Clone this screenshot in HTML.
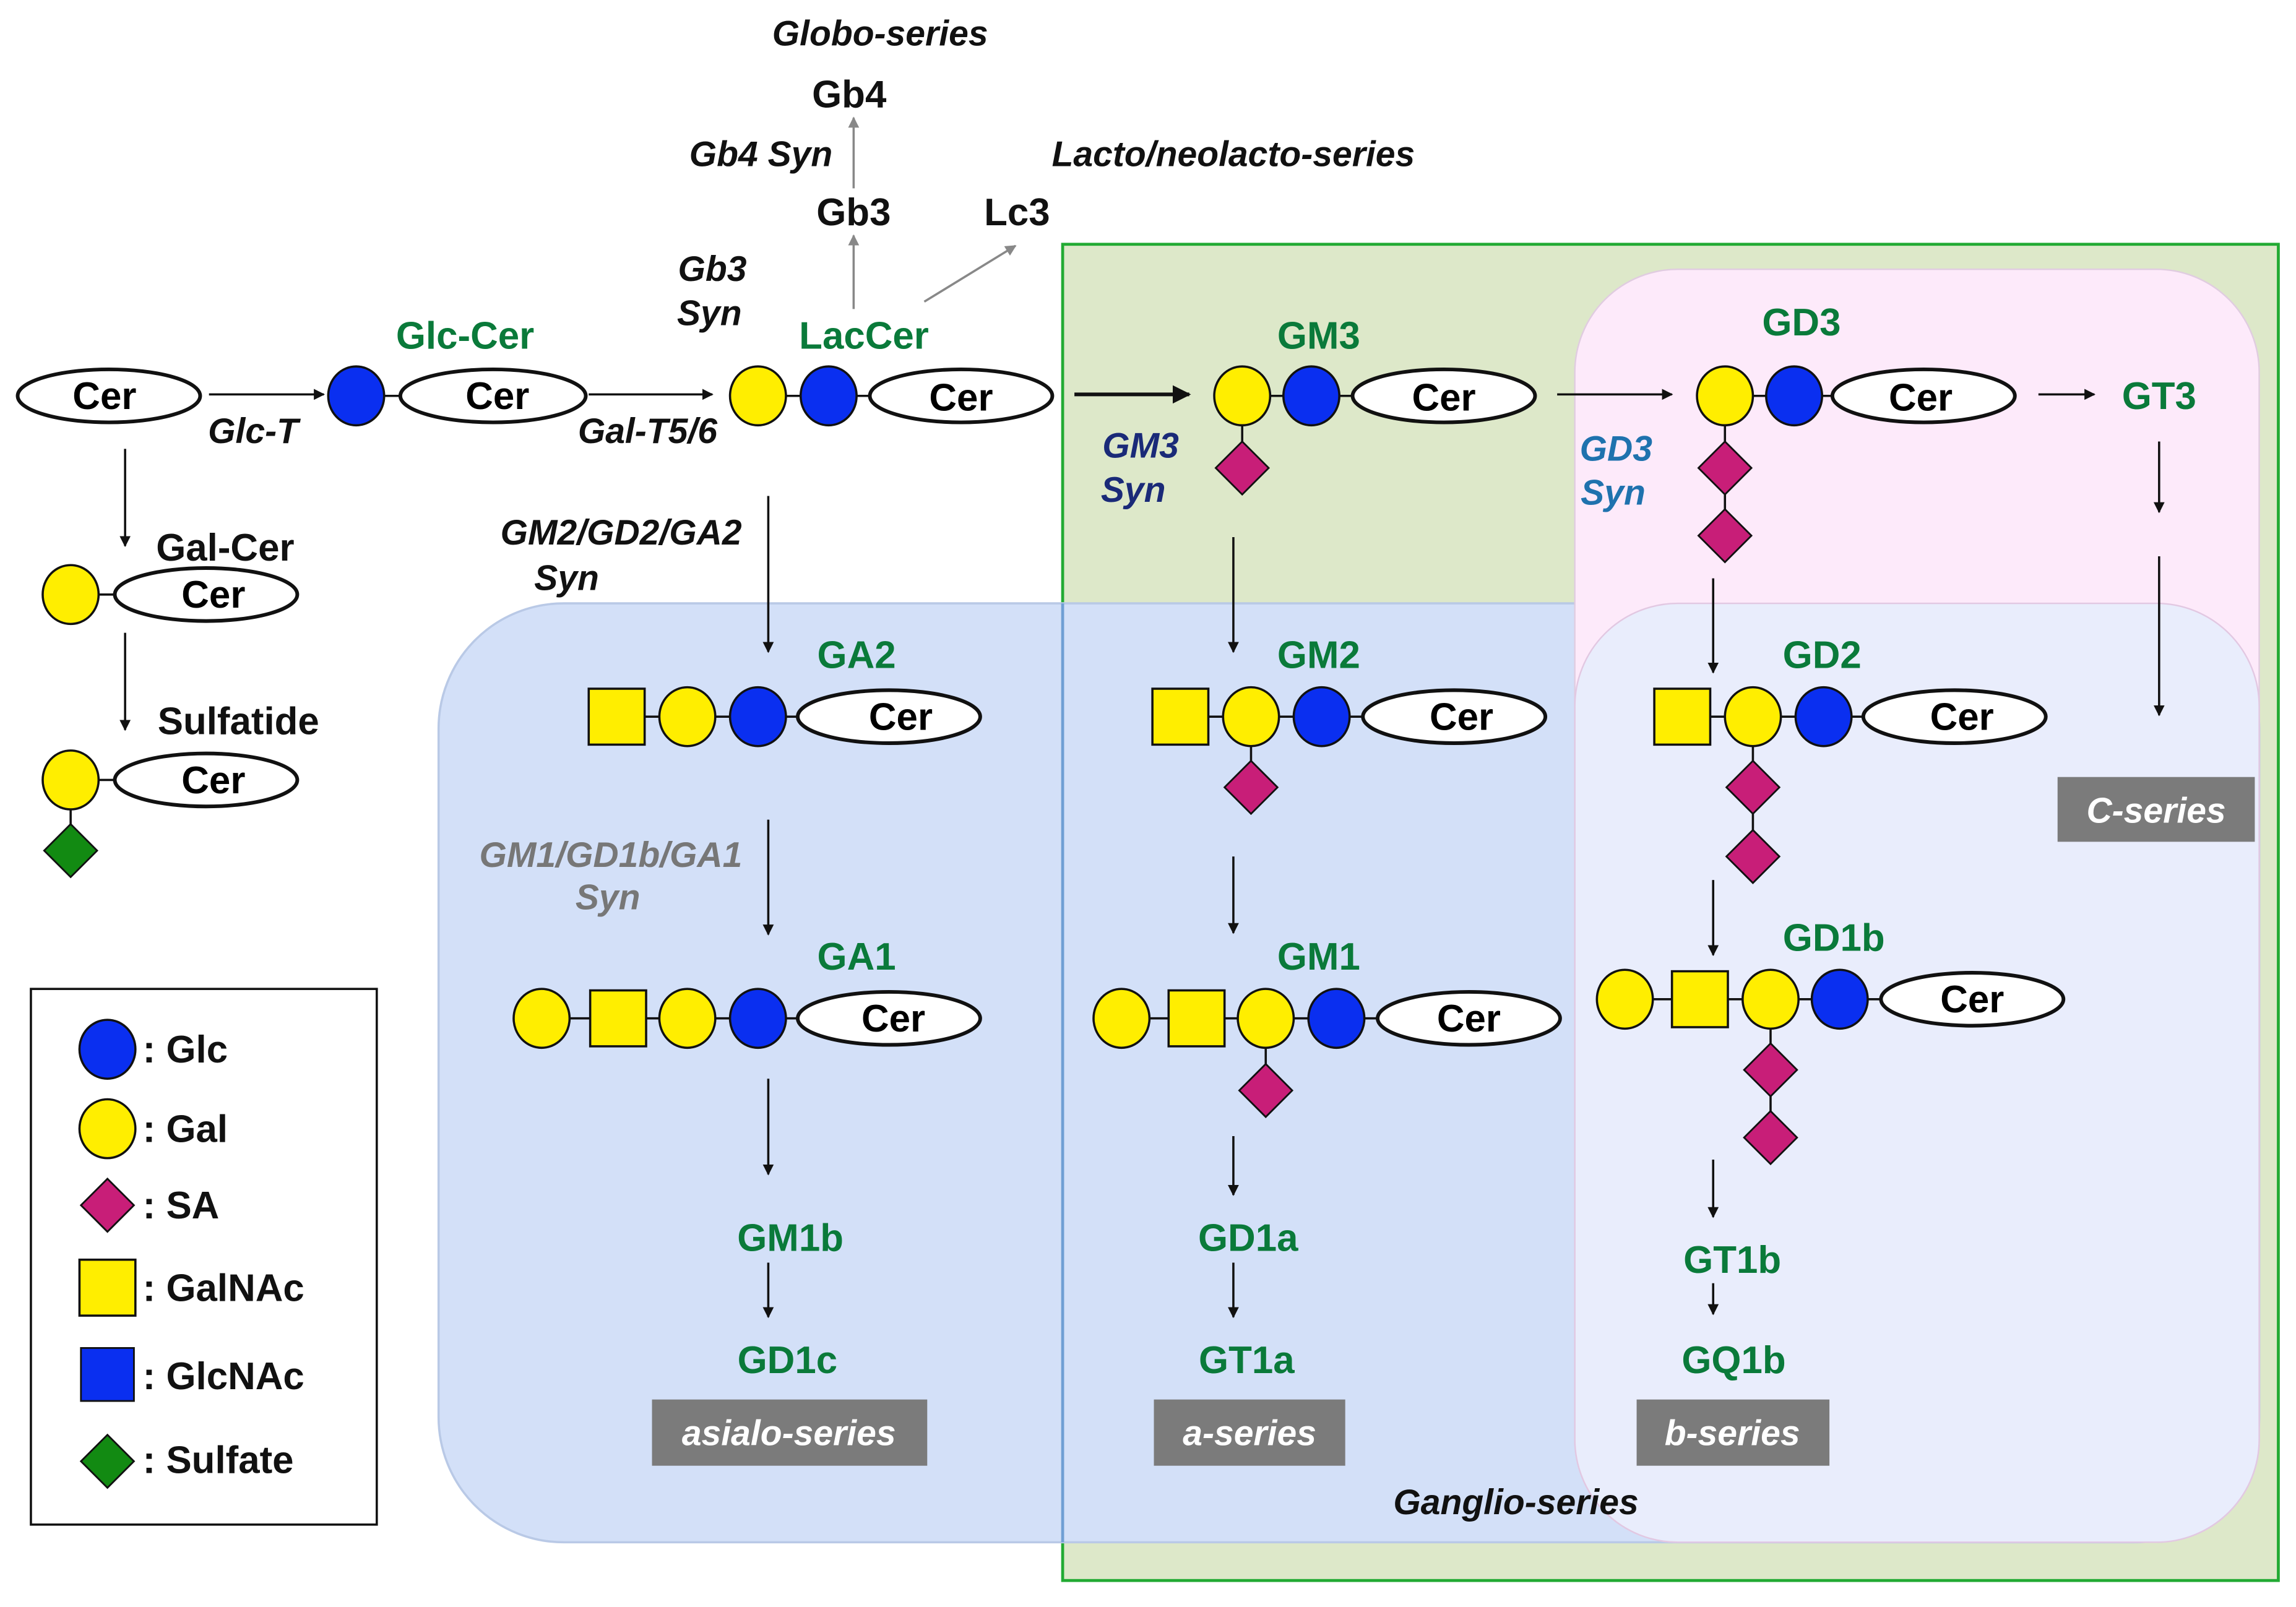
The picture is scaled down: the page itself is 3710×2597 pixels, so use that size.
<!DOCTYPE html>
<html><head><meta charset="utf-8"><style>
html,body{margin:0;padding:0;background:#fff}
svg{display:block}
text{font-family:"Liberation Sans",Arial,sans-serif;font-weight:bold}
.g{fill:#0a7a3a;font-size:26px}
.k{fill:#111;font-size:26px}
.i{font-style:italic;fill:#111;font-size:24px}
.c{fill:#000;font-size:26px;font-weight:bold}
.box{fill:#7b7b7b}
.bt{fill:#fff;font-style:italic;font-size:24px}
</style></head><body>
<svg width="3710" height="2597" viewBox="0 0 1560 1092" preserveAspectRatio="none" xmlns="http://www.w3.org/2000/svg">
<defs>
<marker id="ah" viewBox="0 0 10 10" refX="9" refY="5" markerWidth="5" markerHeight="5" orient="auto-start-reverse"><path d="M0,0 L10,5 L0,10 z" fill="#111"/></marker>
<marker id="ag" viewBox="0 0 10 10" refX="9" refY="5" markerWidth="5" markerHeight="5" orient="auto-start-reverse"><path d="M0,0 L10,5 L0,10 z" fill="#888"/></marker>
<ellipse id="glc" rx="19" ry="20" fill="#0a2ff0" stroke="#111" stroke-width="1.5"/>
<ellipse id="gal" rx="19" ry="20" fill="#ffee00" stroke="#111" stroke-width="1.5"/>
<rect id="sq" x="-19" y="-19" width="38" height="38" fill="#ffee00" stroke="#111" stroke-width="1.5"/>
<path id="sa" d="M0,-18 L18,0 L0,18 L-18,0 z" fill="#c81e78" stroke="#111" stroke-width="1.2"/>
</defs>
<rect width="1560" height="1092" fill="#fff"/>
<rect x="722" y="166" width="826" height="908" fill="#dde8c9" stroke="#22aa33" stroke-width="2"/>
<rect x="298" y="410" width="1237" height="638" rx="85" fill="#d3e0f8" stroke="#b9c9e6" stroke-width="1.5"/>
<rect x="1070" y="183" width="465" height="865" rx="70" fill="#fdeafa" stroke="#e0cce0" stroke-width="1"/>
<rect x="1070" y="410" width="465" height="638" rx="70" fill="#e9edfc" stroke="#e2c8e2" stroke-width="1"/>
<line x1="722" y1="410" x2="722" y2="1048" stroke="#6f9fd4" stroke-width="2"/>

<g stroke="#111" stroke-width="1.5" fill="none">
<line x1="142" y1="268" x2="220" y2="268" marker-end="url(#ah)"/>
<line x1="400" y1="268" x2="484" y2="268" marker-end="url(#ah)"/>
<line x1="730" y1="268" x2="808" y2="268" stroke-width="2.5" marker-end="url(#ah)"/>
<line x1="1058" y1="268" x2="1136" y2="268" marker-end="url(#ah)"/>
<line x1="1385" y1="268" x2="1423" y2="268" marker-end="url(#ah)"/>
<line x1="1467" y1="300" x2="1467" y2="348" marker-end="url(#ah)"/>
<line x1="1467" y1="378" x2="1467" y2="486" marker-end="url(#ah)"/>
<line x1="85" y1="305" x2="85" y2="371" marker-end="url(#ah)"/>
<line x1="85" y1="430" x2="85" y2="496" marker-end="url(#ah)"/>
<line x1="522" y1="337" x2="522" y2="443" marker-end="url(#ah)"/>
<line x1="522" y1="557" x2="522" y2="635" marker-end="url(#ah)"/>
<line x1="522" y1="733" x2="522" y2="798" marker-end="url(#ah)"/>
<line x1="522" y1="858" x2="522" y2="895" marker-end="url(#ah)"/>
<line x1="838" y1="365" x2="838" y2="443" marker-end="url(#ah)"/>
<line x1="838" y1="582" x2="838" y2="634" marker-end="url(#ah)"/>
<line x1="838" y1="772" x2="838" y2="812" marker-end="url(#ah)"/>
<line x1="838" y1="858" x2="838" y2="895" marker-end="url(#ah)"/>
<line x1="1164" y1="393" x2="1164" y2="457" marker-end="url(#ah)"/>
<line x1="1164" y1="598" x2="1164" y2="649" marker-end="url(#ah)"/>
<line x1="1164" y1="788" x2="1164" y2="827" marker-end="url(#ah)"/>
<line x1="1164" y1="872" x2="1164" y2="893" marker-end="url(#ah)"/>
</g>
<g stroke="#888" stroke-width="1.5">
<line x1="580" y1="210" x2="580" y2="160" marker-end="url(#ag)"/>
<line x1="580" y1="128" x2="580" y2="80" marker-end="url(#ag)"/>
<line x1="628" y1="205" x2="690" y2="167" marker-end="url(#ag)"/>
</g>

<g stroke="#111" stroke-width="1.5">
<line x1="242" y1="269" x2="300" y2="269"/>
<line x1="515" y1="269" x2="600" y2="269"/>
<line x1="844" y1="269" x2="930" y2="269"/><line x1="844" y1="269" x2="844" y2="318"/>
<line x1="1172" y1="269" x2="1250" y2="269"/><line x1="1172" y1="269" x2="1172" y2="364"/>
<line x1="48" y1="404" x2="90" y2="404"/>
<line x1="48" y1="530" x2="90" y2="530"/><line x1="48" y1="530" x2="48" y2="578"/>
<line x1="419" y1="487" x2="550" y2="487"/>
<line x1="368" y1="692" x2="550" y2="692"/>
<line x1="802" y1="487" x2="930" y2="487"/><line x1="850" y1="487" x2="850" y2="535"/>
<line x1="762" y1="692" x2="940" y2="692"/><line x1="860" y1="692" x2="860" y2="741"/>
<line x1="1143" y1="487" x2="1270" y2="487"/><line x1="1191" y1="487" x2="1191" y2="582"/>
<line x1="1104" y1="679" x2="1280" y2="679"/><line x1="1203" y1="679" x2="1203" y2="773"/>
</g>

<g fill="#fff" stroke="#111" stroke-width="2.5">
<ellipse cx="74" cy="269" rx="62" ry="18"/>
<ellipse cx="335" cy="269" rx="63" ry="18"/>
<ellipse cx="653" cy="269" rx="62" ry="18"/>
<ellipse cx="981" cy="269" rx="62" ry="18"/>
<ellipse cx="1307" cy="269" rx="62" ry="18"/>
<ellipse cx="140" cy="404" rx="62" ry="18"/>
<ellipse cx="140" cy="530" rx="62" ry="18"/>
<ellipse cx="604" cy="487" rx="62" ry="18"/>
<ellipse cx="604" cy="692" rx="62" ry="18"/>
<ellipse cx="988" cy="487" rx="62" ry="18"/>
<ellipse cx="998" cy="692" rx="62" ry="18"/>
<ellipse cx="1328" cy="487" rx="62" ry="18"/>
<ellipse cx="1340" cy="679" rx="62" ry="18"/>
</g>
<g text-anchor="middle">
<text x="71" y="278" class="c">Cer</text><text x="338" y="278" class="c">Cer</text><text x="653" y="279" class="c">Cer</text>
<text x="981" y="279" class="c">Cer</text><text x="1305" y="279" class="c">Cer</text>
<text x="145" y="413" class="c">Cer</text><text x="145" y="539" class="c">Cer</text>
<text x="612" y="496" class="c">Cer</text><text x="607" y="701" class="c">Cer</text>
<text x="993" y="496" class="c">Cer</text><text x="998" y="701" class="c">Cer</text>
<text x="1333" y="496" class="c">Cer</text><text x="1340" y="688" class="c">Cer</text>
</g>

<use href="#glc" x="242" y="269"/>
<use href="#gal" x="515" y="269"/><use href="#glc" x="563" y="269"/>
<use href="#sa" x="844" y="318"/><use href="#gal" x="844" y="269"/><use href="#glc" x="891" y="269"/>
<use href="#sa" x="1172" y="364"/><use href="#sa" x="1172" y="318"/><use href="#gal" x="1172" y="269"/><use href="#glc" x="1219" y="269"/>
<use href="#gal" x="48" y="404"/>
<path d="M48,560 L66,578 L48,596 L30,578 z" fill="#128a12" stroke="#111" stroke-width="1.2"/>
<use href="#gal" x="48" y="530"/>
<use href="#sq" x="419" y="487"/><use href="#gal" x="467" y="487"/><use href="#glc" x="515" y="487"/>
<use href="#gal" x="368" y="692"/><use href="#sq" x="420" y="692"/><use href="#gal" x="467" y="692"/><use href="#glc" x="515" y="692"/>
<use href="#sa" x="850" y="535"/><use href="#sq" x="802" y="487"/><use href="#gal" x="850" y="487"/><use href="#glc" x="898" y="487"/>
<use href="#sa" x="860" y="741"/><use href="#gal" x="762" y="692"/><use href="#sq" x="813" y="692"/><use href="#gal" x="860" y="692"/><use href="#glc" x="908" y="692"/>
<use href="#sa" x="1191" y="582"/><use href="#sa" x="1191" y="535"/><use href="#sq" x="1143" y="487"/><use href="#gal" x="1191" y="487"/><use href="#glc" x="1239" y="487"/>
<use href="#sa" x="1203" y="773"/><use href="#sa" x="1203" y="727"/><use href="#gal" x="1104" y="679"/><use href="#sq" x="1155" y="679"/><use href="#gal" x="1203" y="679"/><use href="#glc" x="1250" y="679"/>

<g text-anchor="middle">
<text class="g" x="316" y="237">Glc-Cer</text>
<text class="g" x="587" y="237">LacCer</text>
<text class="g" x="896" y="237">GM3</text>
<text class="g" x="1224" y="228">GD3</text>
<text class="g" x="1467" y="278">GT3</text>
<text class="g" x="582" y="454">GA2</text>
<text class="g" x="582" y="659">GA1</text>
<text class="g" x="537" y="850">GM1b</text>
<text class="g" x="535" y="933">GD1c</text>
<text class="g" x="896" y="454">GM2</text>
<text class="g" x="896" y="659">GM1</text>
<text class="g" x="848" y="850">GD1a</text>
<text class="g" x="847" y="933">GT1a</text>
<text class="g" x="1238" y="454">GD2</text>
<text class="g" x="1246" y="646">GD1b</text>
<text class="g" x="1177" y="865">GT1b</text>
<text class="g" x="1178" y="933">GQ1b</text>
<text class="k" x="577" y="73">Gb4</text>
<text class="k" x="580" y="153">Gb3</text>
<text class="k" x="691" y="153">Lc3</text>
<text class="k" x="153" y="381">Gal-Cer</text>
<text class="k" x="162" y="499">Sulfatide</text>
<text class="i" x="172" y="301">Glc-T</text>
<text class="i" x="440" y="301">Gal-T5/6</text>
<text class="i" x="484" y="191">Gb3</text>
<text class="i" x="482" y="221">Syn</text>
<text class="i" x="517" y="113">Gb4 Syn</text>
<text class="i" x="598" y="31">Globo-series</text>
<text class="i" x="838" y="113">Lacto/neolacto-series</text>
<text class="i" x="775" y="311" style="fill:#1a2a78">GM3</text>
<text class="i" x="770" y="341" style="fill:#1a2a78">Syn</text>
<text class="i" x="1098" y="313" style="fill:#1f72ae">GD3</text>
<text class="i" x="1096" y="343" style="fill:#1f72ae">Syn</text>
<text class="i" x="422" y="370">GM2/GD2/GA2</text>
<text class="i" x="385" y="401">Syn</text>
<text class="i" x="415" y="589" style="fill:#777">GM1/GD1b/GA1</text>
<text class="i" x="413" y="618" style="fill:#777">Syn</text>
<text class="i" x="1030" y="1029">Ganglio-series</text>
</g>

<rect class="box" x="1398" y="528" width="134" height="44"/>
<rect class="box" x="443" y="951" width="187" height="45"/>
<rect class="box" x="784" y="951" width="130" height="45"/>
<rect class="box" x="1112" y="951" width="131" height="45"/>
<g text-anchor="middle">
<text class="bt" x="1465" y="559">C-series</text>
<text class="bt" x="536" y="982">asialo-series</text>
<text class="bt" x="849" y="982">a-series</text>
<text class="bt" x="1177" y="982">b-series</text>
</g>

<rect x="21" y="672" width="235" height="364" fill="#fff" stroke="#111" stroke-width="1.5"/>
<use href="#glc" x="73" y="713"/>
<use href="#gal" x="73" y="767"/>
<use href="#sa" x="73" y="819"/>
<use href="#sq" x="73" y="875"/>
<rect x="55" y="916" width="36" height="36" fill="#0a2ff0" stroke="#111" stroke-width="1.2"/>
<path d="M73,975 L91,993 L73,1011 L55,993 z" fill="#128a12" stroke="#111" stroke-width="1.2"/>
<text x="97" y="722" class="k">: Glc</text>
<text x="97" y="776" class="k">: Gal</text>
<text x="97" y="828" class="k">: SA</text>
<text x="97" y="884" class="k">: GalNAc</text>
<text x="97" y="944" class="k">: GlcNAc</text>
<text x="97" y="1001" class="k">: Sulfate</text>
</svg>
</body></html>
